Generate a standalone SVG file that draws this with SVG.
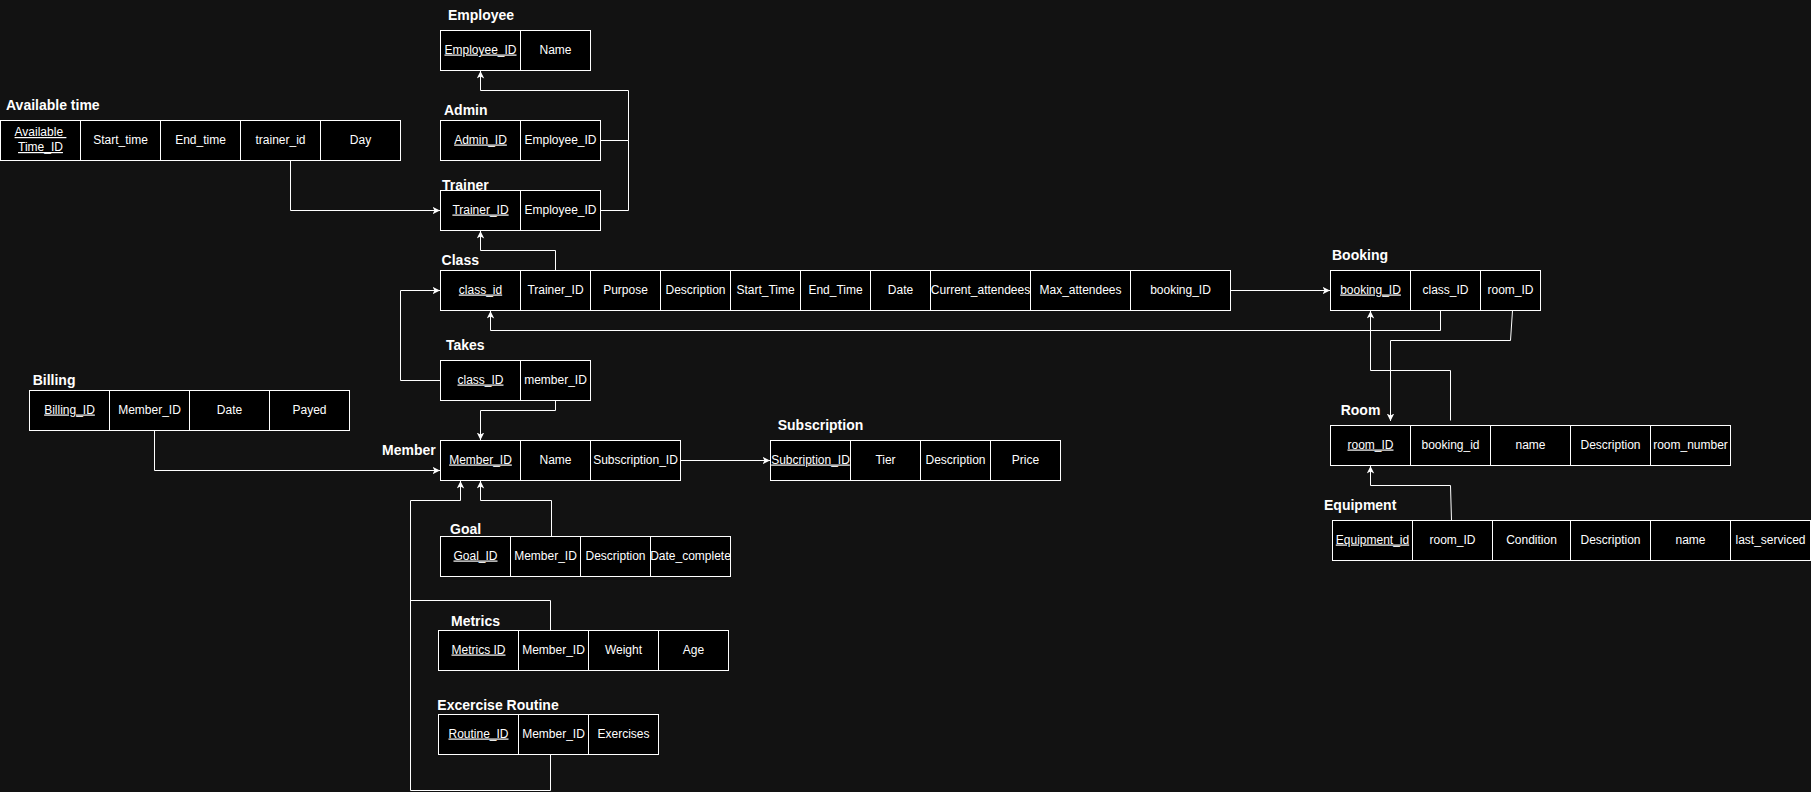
<svg xmlns="http://www.w3.org/2000/svg" width="1811" height="792" viewBox="0 0 1811 792">
  <style>
    .bg { fill: #121212; }
    .cell { fill: #000000; stroke: #ffffff; stroke-width: 1; }
    .t { font-family: "Liberation Sans", Arial, Helvetica, sans-serif; font-size: 12px; fill: #ffffff; text-anchor: middle; }
    .pk { text-decoration: underline; }
    .h { font-family: "Liberation Sans", Arial, Helvetica, sans-serif; font-size: 14px; font-weight: bold; fill: #ffffff; }
    .edge { fill: none; stroke: #ffffff; stroke-width: 1; }
  </style>
  <defs>
    <marker id="arrow" markerUnits="userSpaceOnUse" markerWidth="9" markerHeight="9" refX="7.5" refY="3.75" orient="auto">
      <path d="M0,0 L7.5,3.75 L0,7.5 L2,3.75 Z" fill="#ffffff"/>
    </marker>
  </defs>

  <rect class="bg" x="0" y="0" width="1811" height="792"/>

  <!-- Employee -->
  <g id="employee">
    <text class="h" x="448" y="19.7">Employee</text>
    <rect class="cell" x="440.5" y="30.5" width="80" height="40"/>
    <rect class="cell" x="520.5" y="30.5" width="70" height="40"/>
    <text class="t pk" x="480.5" y="53.5">Employee_ID</text>
    <text class="t" x="555.5" y="53.5">Name</text>
  </g>

  <!-- Admin -->
  <g id="admin">
    <text class="h" x="444" y="114.7">Admin</text>
    <rect class="cell" x="440.5" y="120.5" width="80" height="40"/>
    <rect class="cell" x="520.5" y="120.5" width="80" height="40"/>
    <text class="t pk" x="480.5" y="143.5">Admin_ID</text>
    <text class="t" x="560.5" y="143.5">Employee_ID</text>
  </g>

  <!-- Trainer -->
  <g id="trainer">
    <text class="h" x="442" y="189.5">Trainer</text>
    <rect class="cell" x="440.5" y="190.5" width="80" height="40"/>
    <rect class="cell" x="520.5" y="190.5" width="80" height="40"/>
    <text class="t pk" x="480.5" y="213.5">Trainer_ID</text>
    <text class="t" x="560.5" y="213.5">Employee_ID</text>
  </g>

  <!-- Available time -->
  <g id="available-time">
    <text class="h" x="6" y="110">Available time</text>
    <rect class="cell" x="0.5" y="120.5" width="80" height="40"/>
    <rect class="cell" x="80.5" y="120.5" width="80" height="40"/>
    <rect class="cell" x="160.5" y="120.5" width="80" height="40"/>
    <rect class="cell" x="240.5" y="120.5" width="80" height="40"/>
    <rect class="cell" x="320.5" y="120.5" width="80" height="40"/>
    <text class="t pk" x="40.5" y="136" style="white-space:pre">Available </text>
    <text class="t pk" x="40.5" y="151">Time_ID</text>
    <text class="t" x="120.5" y="143.5">Start_time</text>
    <text class="t" x="200.5" y="143.5">End_time</text>
    <text class="t" x="280.5" y="143.5">trainer_id</text>
    <text class="t" x="360.5" y="143.5">Day</text>
  </g>

  <!-- Class -->
  <g id="class">
    <text class="h" x="441.6" y="264.5">Class</text>
    <rect class="cell" x="440.5" y="270.5" width="80" height="40"/>
    <rect class="cell" x="520.5" y="270.5" width="70" height="40"/>
    <rect class="cell" x="590.5" y="270.5" width="70" height="40"/>
    <rect class="cell" x="660.5" y="270.5" width="70" height="40"/>
    <rect class="cell" x="730.5" y="270.5" width="70" height="40"/>
    <rect class="cell" x="800.5" y="270.5" width="70" height="40"/>
    <rect class="cell" x="870.5" y="270.5" width="60" height="40"/>
    <rect class="cell" x="930.5" y="270.5" width="100" height="40"/>
    <rect class="cell" x="1030.5" y="270.5" width="100" height="40"/>
    <rect class="cell" x="1130.5" y="270.5" width="100" height="40"/>
    <text class="t pk" x="480.5" y="293.5">class_id</text>
    <text class="t" x="555.5" y="293.5">Trainer_ID</text>
    <text class="t" x="625.5" y="293.5">Purpose</text>
    <text class="t" x="695.5" y="293.5">Description</text>
    <text class="t" x="765.5" y="293.5">Start_Time</text>
    <text class="t" x="835.5" y="293.5">End_Time</text>
    <text class="t" x="900.5" y="293.5">Date</text>
    <text class="t" x="980.5" y="293.5">Current_attendees</text>
    <text class="t" x="1080.5" y="293.5">Max_attendees</text>
    <text class="t" x="1180.5" y="293.5">booking_ID</text>
  </g>

  <!-- Takes -->
  <g id="takes">
    <text class="h" x="446" y="349.5">Takes</text>
    <rect class="cell" x="440.5" y="360.5" width="80" height="40"/>
    <rect class="cell" x="520.5" y="360.5" width="70" height="40"/>
    <text class="t pk" x="480.5" y="383.5">class_ID</text>
    <text class="t" x="555.5" y="383.5">member_ID</text>
  </g>

  <!-- Member -->
  <g id="member">
    <text class="h" x="382" y="454.5">Member</text>
    <rect class="cell" x="440.5" y="440.5" width="80" height="40"/>
    <rect class="cell" x="520.5" y="440.5" width="70" height="40"/>
    <rect class="cell" x="590.5" y="440.5" width="90" height="40"/>
    <text class="t pk" x="480.5" y="463.5">Member_ID</text>
    <text class="t" x="555.5" y="463.5">Name</text>
    <text class="t" x="635.5" y="463.5">Subscription_ID</text>
  </g>

  <!-- Subscription -->
  <g id="subscription">
    <text class="h" x="777.7" y="430">Subscription</text>
    <rect class="cell" x="770.5" y="440.5" width="80" height="40"/>
    <rect class="cell" x="850.5" y="440.5" width="70" height="40"/>
    <rect class="cell" x="920.5" y="440.5" width="70" height="40"/>
    <rect class="cell" x="990.5" y="440.5" width="70" height="40"/>
    <text class="t pk" x="810.5" y="463.5">Subcription_ID</text>
    <text class="t" x="885.5" y="463.5">Tier</text>
    <text class="t" x="955.5" y="463.5">Description</text>
    <text class="t" x="1025.5" y="463.5">Price</text>
  </g>

  <!-- Billing -->
  <g id="billing">
    <text class="h" x="32.7" y="384.5">Billing</text>
    <rect class="cell" x="29.5" y="390.5" width="80" height="40"/>
    <rect class="cell" x="109.5" y="390.5" width="80" height="40"/>
    <rect class="cell" x="189.5" y="390.5" width="80" height="40"/>
    <rect class="cell" x="269.5" y="390.5" width="80" height="40"/>
    <text class="t pk" x="69.5" y="413.5">Billing_ID</text>
    <text class="t" x="149.5" y="413.5">Member_ID</text>
    <text class="t" x="229.5" y="413.5">Date</text>
    <text class="t" x="309.5" y="413.5">Payed</text>
  </g>

  <!-- Booking -->
  <g id="booking">
    <text class="h" x="1332" y="259.5">Booking</text>
    <rect class="cell" x="1330.5" y="270.5" width="80" height="40"/>
    <rect class="cell" x="1410.5" y="270.5" width="70" height="40"/>
    <rect class="cell" x="1480.5" y="270.5" width="60" height="40"/>
    <text class="t pk" x="1370.5" y="293.5">booking_ID</text>
    <text class="t" x="1445.5" y="293.5">class_ID</text>
    <text class="t" x="1510.5" y="293.5">room_ID</text>
  </g>

  <!-- Room -->
  <g id="room">
    <text class="h" x="1340.7" y="414.5">Room</text>
    <rect class="cell" x="1330.5" y="425.5" width="80" height="40"/>
    <rect class="cell" x="1410.5" y="425.5" width="80" height="40"/>
    <rect class="cell" x="1490.5" y="425.5" width="80" height="40"/>
    <rect class="cell" x="1570.5" y="425.5" width="80" height="40"/>
    <rect class="cell" x="1650.5" y="425.5" width="80" height="40"/>
    <text class="t pk" x="1370.5" y="448.5">room_ID</text>
    <text class="t" x="1450.5" y="448.5">booking_id</text>
    <text class="t" x="1530.5" y="448.5">name</text>
    <text class="t" x="1610.5" y="448.5">Description</text>
    <text class="t" x="1690.5" y="448.5">room_number</text>
  </g>

  <!-- Equipment -->
  <g id="equipment">
    <text class="h" x="1324" y="510">Equipment</text>
    <rect class="cell" x="1332.5" y="520.5" width="80" height="40"/>
    <rect class="cell" x="1412.5" y="520.5" width="80" height="40"/>
    <rect class="cell" x="1492.5" y="520.5" width="78" height="40"/>
    <rect class="cell" x="1570.5" y="520.5" width="80" height="40"/>
    <rect class="cell" x="1650.5" y="520.5" width="80" height="40"/>
    <rect class="cell" x="1730.5" y="520.5" width="80" height="40"/>
    <text class="t pk" x="1372.5" y="543.5">Equipment_id</text>
    <text class="t" x="1452.5" y="543.5">room_ID</text>
    <text class="t" x="1531.5" y="543.5">Condition</text>
    <text class="t" x="1610.5" y="543.5">Description</text>
    <text class="t" x="1690.5" y="543.5">name</text>
    <text class="t" x="1770.5" y="543.5">last_serviced</text>
  </g>

  <!-- Goal -->
  <g id="goal">
    <text class="h" x="450" y="533.5">Goal</text>
    <rect class="cell" x="440.5" y="536.5" width="70" height="40"/>
    <rect class="cell" x="510.5" y="536.5" width="70" height="40"/>
    <rect class="cell" x="580.5" y="536.5" width="70" height="40"/>
    <rect class="cell" x="650.5" y="536.5" width="80" height="40"/>
    <text class="t pk" x="475.5" y="559.5">Goal_ID</text>
    <text class="t" x="545.5" y="559.5">Member_ID</text>
    <text class="t" x="615.5" y="559.5">Description</text>
    <text class="t" x="690.5" y="559.5">Date_complete</text>
  </g>

  <!-- Metrics -->
  <g id="metrics">
    <text class="h" x="451" y="625.5">Metrics</text>
    <rect class="cell" x="438.5" y="630.5" width="80" height="40"/>
    <rect class="cell" x="518.5" y="630.5" width="70" height="40"/>
    <rect class="cell" x="588.5" y="630.5" width="70" height="40"/>
    <rect class="cell" x="658.5" y="630.5" width="70" height="40"/>
    <text class="t pk" x="478.5" y="653.5">Metrics ID</text>
    <text class="t" x="553.5" y="653.5">Member_ID</text>
    <text class="t" x="623.5" y="653.5">Weight</text>
    <text class="t" x="693.5" y="653.5">Age</text>
  </g>

  <!-- Excercise Routine -->
  <g id="exercise-routine">
    <text class="h" x="437.3" y="710">Excercise Routine</text>
    <rect class="cell" x="438.5" y="714.5" width="80" height="40"/>
    <rect class="cell" x="518.5" y="714.5" width="70" height="40"/>
    <rect class="cell" x="588.5" y="714.5" width="70" height="40"/>
    <text class="t pk" x="478.5" y="737.5">Routine_ID</text>
    <text class="t" x="553.5" y="737.5">Member_ID</text>
    <text class="t" x="623.5" y="737.5">Exercises</text>
  </g>

  <!-- Foreign-key connectors -->
  <g id="connectors">
    <path class="edge" d="M290.5,160.5 V210.5 H440" marker-end="url(#arrow)"/>
    <path class="edge" d="M600.5,140.5 H628.5 V90.5 H480.5 V71" marker-end="url(#arrow)"/>
    <path class="edge" d="M600.5,210.5 H628.5 V140.5"/>
    <path class="edge" d="M555.5,270.5 V250.5 H480.5 V231" marker-end="url(#arrow)"/>
    <path class="edge" d="M440.5,380.5 H400.5 V290.5 H440" marker-end="url(#arrow)"/>
    <path class="edge" d="M555.5,400.5 V410.5 H480.5 V440" marker-end="url(#arrow)"/>
    <path class="edge" d="M1230.5,290.5 H1330" marker-end="url(#arrow)"/>
    <path class="edge" d="M1440.5,310.5 V330.5 H490.5 V311" marker-end="url(#arrow)"/>
    <path class="edge" d="M1512.5,310.5 L1510.5,340.5 H1390.5 V421" marker-end="url(#arrow)"/>
    <path class="edge" d="M1450.5,420.5 V370.5 H1370.5 V311" marker-end="url(#arrow)"/>
    <path class="edge" d="M1451.5,520.5 L1450.5,485.5 H1370.5 V466" marker-end="url(#arrow)"/>
    <path class="edge" d="M680.5,460.5 H770" marker-end="url(#arrow)"/>
    <path class="edge" d="M154.5,430.5 V470.5 H440" marker-end="url(#arrow)"/>
    <path class="edge" d="M551.5,536.5 V500.5 H480.5 V481" marker-end="url(#arrow)"/>
    <path class="edge" d="M550.5,754.5 V790.5 H410.5 V500.5 H460.5 V481" marker-end="url(#arrow)"/>
    <path class="edge" d="M550.5,630.5 V600.5 H410.5"/>
  </g>
</svg>
